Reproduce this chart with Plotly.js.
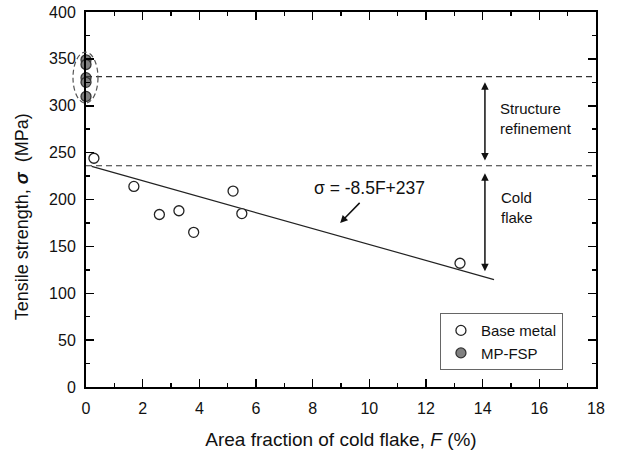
<!DOCTYPE html>
<html>
<head>
<meta charset="utf-8">
<script src="https://cdn.plot.ly/plotly-3.0.1.min.js"></script>
<style>html,body{margin:0;padding:0;background:#fff;}#chart{width:619px;height:466px;}</style>
</head>
<body>
<div id="chart"></div>
<script>
// Base metal: area fraction of cold flake (%) vs tensile strength (MPa)
var baseF = [0.28, 1.69, 2.59, 3.28, 3.8, 5.19, 5.5, 13.2];
var baseS = [244, 214, 184, 188, 165, 209, 185, 132];
// MP-FSP samples
var fspF = [0, 0, 0, 0, 0];
var fspS = [349, 344, 330, 325, 310];
// Fitted line sigma = -8.5F + 237 (end points as drawn)
var fitF = [0.2, 14.4];
var fitS = [235.3, 114.6];
// Reference levels (dashed)
var refLevels = [331, 236];
var xTicks = [0, 2, 4, 6, 8, 10, 12, 14, 16, 18];
var yTicks = [0, 50, 100, 150, 200, 250, 300, 350, 400];

var FONT = 'Liberation Sans, Arial, sans-serif';

var traces = [
  {x: fitF, y: fitS, mode: 'lines', line: {color: '#222', width: 1.2}, showlegend: false, hoverinfo: 'skip'},
  {x: baseF, y: baseS, mode: 'markers', name: 'Base metal', cliponaxis: false,
   marker: {symbol: 'circle', size: 10, color: '#fff', line: {color: '#222', width: 1.3}}},
  {x: fspF, y: fspS, mode: 'markers', name: 'MP-FSP', cliponaxis: false,
   marker: {symbol: 'circle', size: 10, color: '#808080', line: {color: '#333', width: 1.3}}}
];

var shapes = refLevels.map(function (v) {
  return {type: 'line', xref: 'x', yref: 'y', x0: 0, x1: 18, y0: v, y1: v,
          line: {color: '#333', width: 1.2, dash: '6px,4px'}};
});
shapes.push({type: 'circle', xref: 'paper', yref: 'paper', x0: -0.0255, x1: 0.0235, y0: 0.757, y1: 0.893,
             line: {color: '#555', width: 1.2, dash: '5px,3px'}});

var annotations = [
  {x: 14.08, y: 325, ax: 14.08, ay: 240, xref: 'x', yref: 'y', axref: 'x', ayref: 'y', text: '',
   showarrow: true, arrowside: 'end+start', arrowhead: 2, startarrowhead: 2, arrowsize: 1, startarrowsize: 1, arrowwidth: 1.5, arrowcolor: '#111'},
  {x: 14.08, y: 228, ax: 14.08, ay: 122, xref: 'x', yref: 'y', axref: 'x', ayref: 'y', text: '',
   showarrow: true, arrowside: 'end+start', arrowhead: 2, startarrowhead: 2, arrowsize: 1, startarrowsize: 1, arrowwidth: 1.5, arrowcolor: '#111'},
  {x: 8.97, y: 175, ax: 9.71, ay: 198, xref: 'x', yref: 'y', axref: 'x', ayref: 'y', text: '',
   showarrow: true, arrowhead: 2, arrowsize: 1, arrowwidth: 1.5, arrowcolor: '#111'},
  {x: 14.55, y: 286, xref: 'x', yref: 'y', text: 'Structure<br>refinement', showarrow: false,
   xanchor: 'left', yanchor: 'middle', align: 'left', font: {family: FONT, size: 15, color: '#111'}},
  {x: 14.58, y: 191, xref: 'x', yref: 'y', text: 'Cold<br>flake', showarrow: false,
   xanchor: 'left', yanchor: 'middle', align: 'left', font: {family: FONT, size: 15, color: '#111'}},
  {x: 10.0, y: 212, xref: 'x', yref: 'y', text: 'σ = -8.5F+237', showarrow: false,
   xanchor: 'center', yanchor: 'middle', font: {family: FONT, size: 17.5, color: '#111'}},
  // y-axis title
  {x: -0.1255, y: 0.455, xref: 'paper', yref: 'paper', text: 'Tensile strength, <b><i>σ</i></b>  (MPa)',
   showarrow: false, textangle: -90, xanchor: 'center', yanchor: 'middle',
   font: {family: FONT, size: 18, color: '#111'}}
];

var axisCommon = {
  showline: true, linecolor: '#000', linewidth: 2, mirror: 'ticks',
  ticks: 'inside', ticklen: 8, tickwidth: 1.5, tickcolor: '#000',
  showgrid: false, zeroline: false,
  tickfont: {family: FONT, size: 16, color: '#111'}
};

var layout = {
  width: 619, height: 466,
  margin: {l: 86, r: 23, t: 12, b: 79},
  paper_bgcolor: '#fff', plot_bgcolor: '#fff',
  font: {family: FONT, color: '#111'},
  xaxis: Object.assign({}, axisCommon, {
    range: [0, 18], tickvals: xTicks, ticktext: xTicks.map(String),
    ticklabelstandoff: 6,
    minor: {dtick: 1, ticks: 'inside', ticklen: 4, tickwidth: 1.5, tickcolor: '#000'},
    title: {text: 'Area fraction of cold flake, <i>F</i> (%)', font: {family: FONT, size: 19, color: '#111'}, standoff: 16}
  }),
  yaxis: Object.assign({}, axisCommon, {
    range: [0, 400], tickvals: yTicks, ticktext: yTicks.map(String),
    ticklabelstandoff: 5,
    minor: {dtick: 25, ticks: 'inside', ticklen: 4, tickwidth: 1.5, tickcolor: '#000'}
  }),
  showlegend: true,
  legend: {x: 0.694, y: 0.197, xanchor: 'left', yanchor: 'top', bgcolor: '#fff',
           bordercolor: '#666', borderwidth: 1, font: {family: FONT, size: 15, color: '#111'},
           tracegroupgap: 0, itemwidth: 30, entrywidth: 96, entrywidthmode: 'pixels'},
  shapes: shapes,
  annotations: annotations
};

Plotly.newPlot('chart', traces, layout, {staticPlot: true, displayModeBar: false});
</script>
</body>
</html>
